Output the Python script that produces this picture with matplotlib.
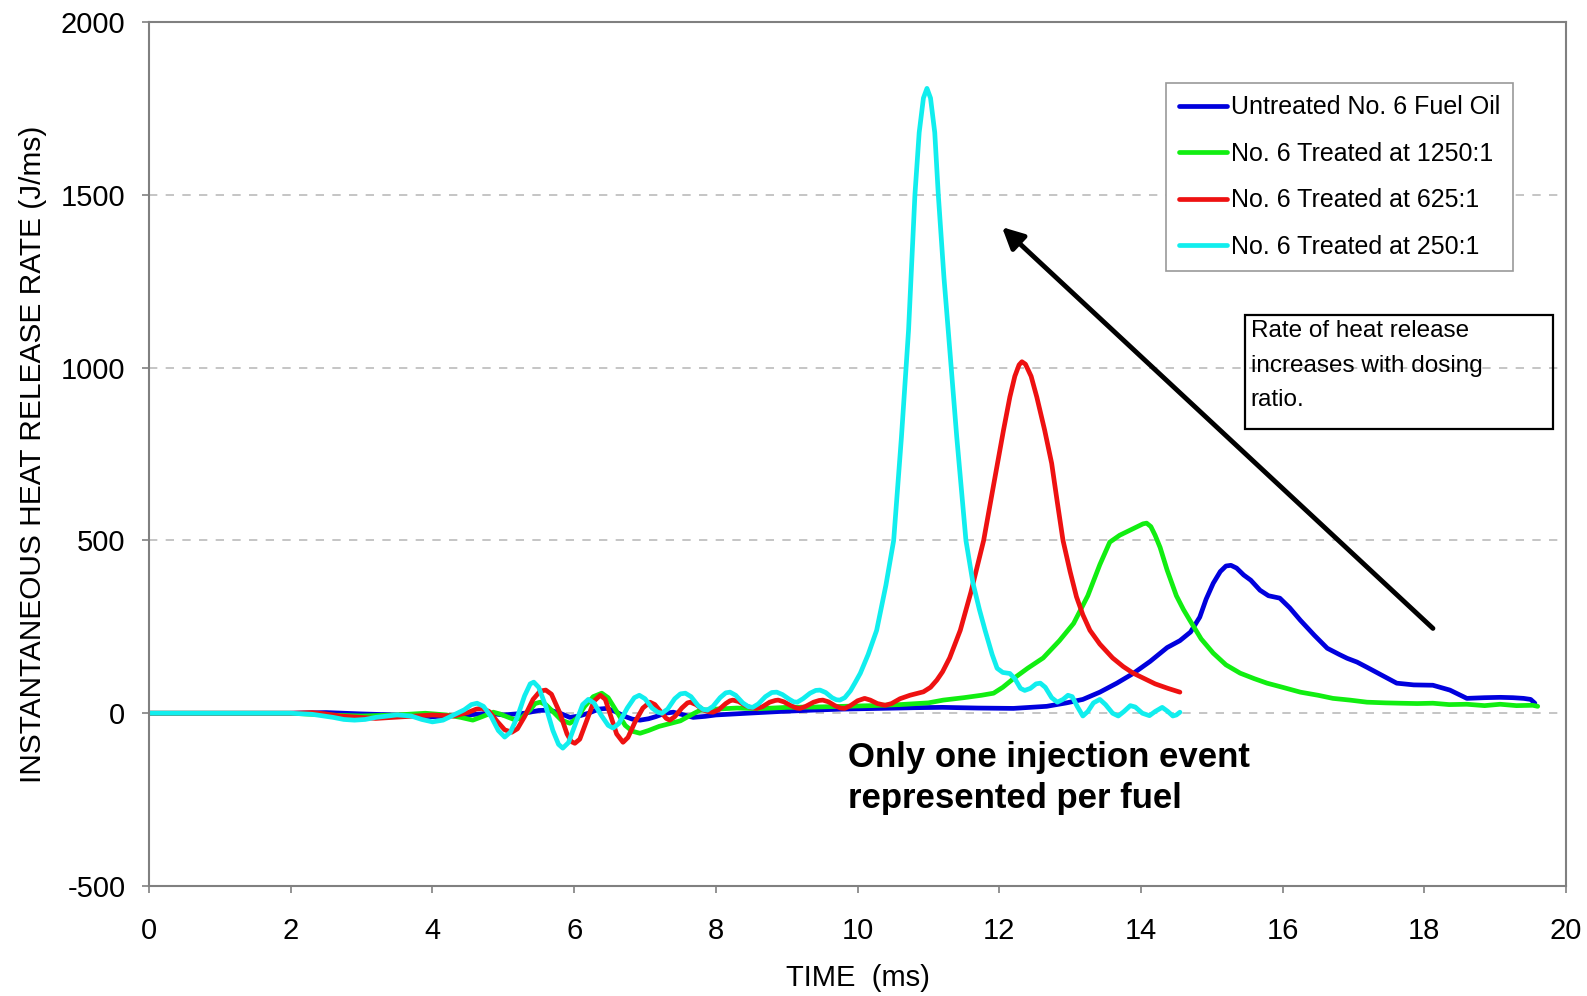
import matplotlib
matplotlib.use("Agg")
import matplotlib.pyplot as plt
from matplotlib.patches import Rectangle

# time (ms) / heat release rate (J/ms)
t_untreated = [0, 2.0, 2.5, 3.0, 3.5, 4.0, 4.5, 4.8, 5.0, 5.3, 5.5, 5.66, 5.8, 5.94, 6.07, 6.2,
               6.35, 6.46, 6.58, 6.7, 6.82, 6.93, 7.05, 7.15, 7.28, 7.4, 7.55, 7.68, 7.85, 8.0,
               8.44, 8.9, 9.37, 9.8, 10.3, 10.8, 11.2, 11.7, 12.2, 12.67, 12.95, 13.18, 13.42,
               13.66, 13.89, 14.13, 14.37, 14.55, 14.7, 14.83, 14.92, 15.02, 15.12, 15.2, 15.27,
               15.35, 15.45, 15.55, 15.68, 15.8, 15.96, 16.1, 16.25, 16.45, 16.63, 16.8, 16.91,
               17.05, 17.19, 17.4, 17.61, 17.85, 18.12, 18.36, 18.6, 18.85, 19.07, 19.25, 19.4,
               19.5, 19.56]
v_untreated = [0, 0, 2, -2, -5, -10, -5, 0, -5, 0, 8, 9, 0, -12, -8, 0,
               12, 14, 5, -8, -17, -20, -16, -10, 0, 3, -5, -12, -9, -5,
               0, 5, 9, 12, 14, 16, 17, 15, 14, 20, 30, 40, 61,
               87, 115, 150, 190, 210, 235, 278, 330, 376, 410, 426, 428,
               420, 400, 385, 356, 340, 333, 305, 269, 225, 188, 170, 159,
               148, 133, 110, 87, 82, 81, 67, 43, 45, 46, 45, 43,
               40, 29]

t_1250 = [0, 2.0, 2.5, 3.0, 3.5, 3.9, 4.2, 4.4, 4.57, 4.7, 4.86, 4.95, 5.05, 5.15, 5.25, 5.38,
          5.45, 5.52, 5.6, 5.7, 5.82, 5.94, 6.04, 6.15, 6.27, 6.39, 6.48, 6.6, 6.72, 6.82,
          6.93, 7.05, 7.2, 7.35, 7.5, 7.65, 7.78, 7.9, 8.0, 8.3, 8.6, 9.0, 9.4, 9.8, 10.2,
          10.6, 11.0, 11.21, 11.5, 11.75, 11.92, 12.05, 12.2, 12.4, 12.62, 12.85, 13.05,
          13.25, 13.42, 13.56, 13.7, 13.85, 13.95, 14.03, 14.08, 14.14, 14.2, 14.27, 14.37,
          14.5, 14.6, 14.69, 14.85, 15.02, 15.2, 15.4, 15.6, 15.78, 16.0, 16.25, 16.5, 16.71,
          16.95, 17.19, 17.45, 17.66, 17.9, 18.12, 18.35, 18.6, 18.85, 19.07, 19.3, 19.53, 19.6]
v_1250 = [0, 0, -5, -8, -5, 0, -5, -12, -20, -10, 3, -2, -10, -18, -15, 10,
          28, 32, 25, 5, -20, -29, -15, 20, 48, 58, 45, 5, -35, -52,
          -58, -50, -38, -30, -22, -5, 9, 10, 12, 15, 13, 17, 18, 20, 22,
          25, 30, 38, 45, 52, 58, 75, 100, 130, 160, 210, 260,
          340, 430, 495, 515, 530, 540, 548, 550, 540, 515, 480, 414,
          340, 300, 269, 215, 174, 140, 116, 100, 87, 75, 61, 52, 43,
          38, 32, 30, 29, 28, 29, 25, 26, 22, 26, 22, 23, 20]

t_625 = [0, 2.0, 2.3, 2.5, 2.7, 3.2, 3.6, 4.0, 4.3, 4.5, 4.62, 4.7, 4.8, 4.92, 5.02, 5.12,
         5.2, 5.3, 5.42, 5.52, 5.6, 5.68, 5.8, 5.9, 5.96, 6.01, 6.08, 6.18, 6.28, 6.37, 6.44,
         6.52, 6.6, 6.69, 6.76, 6.86, 6.97, 7.07, 7.14, 7.24, 7.3, 7.35, 7.42, 7.52, 7.6,
         7.64, 7.72, 7.82, 7.9, 7.96, 8.04, 8.14, 8.2, 8.24, 8.32, 8.42, 8.5, 8.58, 8.66,
         8.76, 8.84, 8.88, 8.96, 9.06, 9.14, 9.19, 9.27, 9.38, 9.46, 9.51, 9.59, 9.68, 9.76,
         9.82, 9.9, 10.0, 10.1, 10.18, 10.28, 10.39, 10.48, 10.6, 10.74, 10.93, 11.03, 11.12,
         11.2, 11.3, 11.45, 11.6, 11.78, 11.92, 12.06, 12.15, 12.22, 12.28, 12.32, 12.37,
         12.45, 12.53, 12.64, 12.74, 12.82, 12.9, 13.0, 13.09, 13.18, 13.28, 13.42, 13.6,
         13.75, 13.89, 14.05, 14.2, 14.38, 14.55]
v_625 = [0, 0, 2, -2, -8, -15, -10, -5, -8, 2, 12, 14, 5, -25, -48, -55,
         -45, -10, 40, 64, 67, 55, 0, -60, -82, -87, -75, -20, 35, 52, 40,
         -10, -60, -84, -70, -25, 15, 32, 25, 0, -15, -20, -10, 15, 30,
         32, 25, 10, 4, 3, 10, 28, 36, 38, 34, 22, 16, 14, 19,
         32, 37, 38, 33, 22, 15, 14, 20, 32, 37, 38, 33, 22, 15,
         14, 22, 36, 43, 38, 28, 23, 28, 42, 52, 62, 75, 96,
         120, 160, 240, 350, 500, 660, 819, 915, 975, 1008, 1017, 1010,
         975, 915, 820, 723, 610, 500, 410, 337, 285, 240, 200, 160,
         135, 116, 100, 85, 72, 61]

t_250 = [0, 1.0, 2.0, 2.3, 2.6, 2.75, 2.9, 3.05, 3.2, 3.5, 3.7, 3.85, 4.0, 4.15, 4.3, 4.45,
         4.55, 4.63, 4.72, 4.83, 4.93, 5.02, 5.1, 5.2, 5.3, 5.38, 5.43, 5.5, 5.6, 5.7, 5.78,
         5.84, 5.92, 6.02, 6.12, 6.2, 6.28, 6.38, 6.48, 6.55, 6.63, 6.75, 6.85, 6.92, 7.0,
         7.1, 7.18, 7.24, 7.32, 7.42, 7.5, 7.57, 7.65, 7.75, 7.82, 7.88, 7.96, 8.06, 8.14,
         8.2, 8.28, 8.38, 8.46, 8.52, 8.6, 8.7, 8.79, 8.86, 8.94, 9.04, 9.1, 9.15, 9.23,
         9.33, 9.41, 9.47, 9.55, 9.64, 9.7, 9.75, 9.82, 9.9, 9.97, 10.04, 10.15, 10.27, 10.4,
         10.51, 10.62, 10.72, 10.81, 10.87, 10.93, 10.98, 11.03, 11.09, 11.14, 11.22, 11.28,
         11.4, 11.53, 11.63, 11.72, 11.8, 11.9, 11.97, 12.05, 12.15, 12.22, 12.3, 12.36,
         12.44, 12.52, 12.58, 12.65, 12.74, 12.82, 12.9, 12.97, 13.03, 13.1, 13.18, 13.25,
         13.33, 13.42, 13.5, 13.6, 13.68, 13.76, 13.85, 13.92, 14.02, 14.12, 14.2, 14.3,
         14.38, 14.45, 14.5, 14.55]
v_250 = [0, 0, 0, -3, -12, -18, -20, -18, -12, -5, -8, -18, -25, -20, -5, 10,
         25, 29, 20, -10, -50, -69, -55, -10, 50, 85, 90, 75, 20, -50, -90,
         -101, -85, -30, 25, 40, 30, -5, -35, -43, -30, 15, 45, 52, 42,
         15, 3, 0, 12, 42, 56, 58, 48, 22, 11, 9, 20, 45, 59,
         61, 52, 30, 19, 17, 27, 48, 60, 61, 54, 40, 33, 32, 42,
         58, 66, 67, 60, 45, 39, 38, 45, 65, 90, 116, 170, 240, 370,
         500, 800, 1108, 1500, 1680, 1780, 1808, 1780, 1680, 1500, 1260, 1108,
         800, 500, 376, 300, 240, 170, 130, 118, 115, 100, 72, 66,
         72, 85, 87, 75, 45, 32, 40, 52, 48, 20, -8, 5,
         30, 40, 25, 0, -8, 5, 22, 18, 0, -7, 5, 17,
         5, -8, -5, 3]

labels = ["Untreated No. 6 Fuel Oil", "No. 6 Treated at 1250:1",
          "No. 6 Treated at 625:1", "No. 6 Treated at 250:1"]
colors = ["#0000dd", "#11ee11", "#ee1111", "#11eeee"]

plt.rcParams["font.family"] = "Liberation Sans"
plt.rcParams["axes.unicode_minus"] = False

fig = plt.figure(figsize=(15.87, 9.96), dpi=100)
ax = fig.add_axes([0.0939, 0.1104, 0.8929, 0.8675])

series = [(t_untreated, v_untreated), (t_1250, v_1250), (t_625, v_625), (t_250, v_250)]
for (t, v), lab, c in zip(series, labels, colors):
    ax.plot(t, v, color=c, lw=3.4, label=lab, solid_capstyle="round", solid_joinstyle="round")

ax.set_xlim(0, 20)
ax.set_ylim(-500, 2000)
ax.set_xticks(range(0, 21, 2))
ax.set_yticks(range(-500, 2001, 500))
ax.yaxis.grid(True, ls=(0, (5, 5)), color="#bbbbbb", lw=1.2)
ax.set_axisbelow(True)
for s in ax.spines.values():
    s.set_color("#808080")
    s.set_linewidth(1.5)
ax.tick_params(labelsize=21, length=5, color="#808080", width=1.2)
ax.tick_params(axis="x", pad=17)
ax.tick_params(axis="y", pad=12)

ax.set_xlabel("TIME  (ms)", fontsize=21, labelpad=14)
ax.set_ylabel("INSTANTANEOUS HEAT RELEASE RATE (J/ms)", fontsize=21.5, labelpad=10)

leg = ax.legend(loc="upper left", bbox_to_anchor=(0.709, 0.944), fontsize=18,
                handlelength=1.95, handletextpad=0.15, labelspacing=0.9,
                fancybox=False, framealpha=1, borderpad=0.5)
leg.get_frame().set_edgecolor("#999999")
leg.get_frame().set_linewidth(1.2)

# note box
ax.add_patch(Rectangle((0.7731, 0.5284), 0.218, 0.1326, transform=ax.transAxes,
                       fill=False, ec="black", lw=1.6, zorder=5))
ax.text(0.7774, 0.6553, "Rate of heat release\nincreases with dosing\nratio.",
        transform=ax.transAxes, fontsize=17.5, va="top", ha="left", linespacing=1.75, zorder=6)

ax.annotate("", xy=(12.01, 1412), xytext=(18.15, 240),
            arrowprops=dict(arrowstyle="-|>", color="black", lw=3.5, mutation_scale=32))

ax.text(9.87, -80, "Only one injection event\nrepresented per fuel", fontsize=25,
        fontweight="bold", va="top", ha="left", linespacing=1.3)

fig.savefig("out.png", dpi=100)
